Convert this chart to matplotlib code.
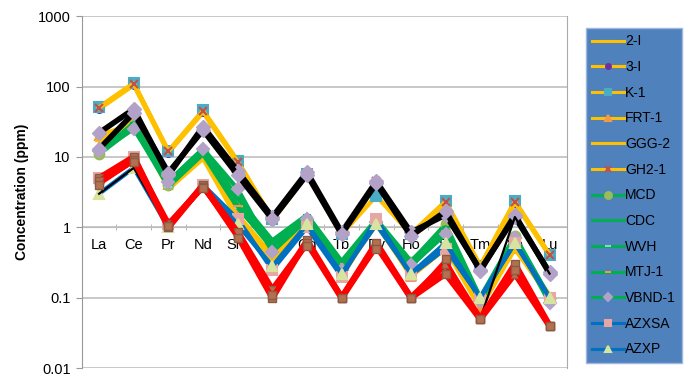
import matplotlib.pyplot as plt
from matplotlib.ticker import FixedLocator, FuncFormatter

plt.rcParams["font.family"] = ["Liberation Sans", "DejaVu Sans"]

elements = ["La", "Ce", "Pr", "Nd", "Sm", "Eu", "Gd", "Tb", "Dy", "Ho", "Er", "Tm", "Yb", "Lu"]

# Образцы из легенды (ppm)
names = ["2-I", "3-I", "K-1", "FRT-1", "GGG-2", "GH2-1", "MCD", "CDC", "WVH",
         "MTJ-1", "VBND-1", "AZXSA", "AZXP"]
two_i = [50, 110, 12, 45, 8.5, 1.3, 5.8, 0.8, 4.5, 0.8, 2.3, 0.28, 2.3, 0.41]
three_i = [48, 105, 11.5, 43, 8.2, 1.25, 5.6, 0.78, 4.3, 0.78, 2.2, 0.27, 2.2, 0.4]
k_1 = [51, 112, 12, 46, 8.8, 1.3, 5.8, 0.8, 2.8, 0.8, 2.35, 0.28, 2.35, 0.41]
frt_1 = [20, 30, 4, 10, 1.5, 0.4, 1.2, 0.2, 1.2, 0.2, 0.5, 0.07, 0.5, 0.1]
ggg_2 = [17, 33, 3.5, 9.5, 1.3, 0.35, 1.1, 0.22, 1.1, 0.21, 0.55, 0.08, 0.5, 0.11]
gh2_1 = [50, 110, 12, 45, 8.5, 1.3, 5.8, 0.8, 4.5, 0.8, 2.3, 0.28, 2.3, 0.41]
mcd = [11, 28, 4, 12, 2.2, 0.6, 1.3, 0.3, 1.2, 0.32, 1.1, 0.1, 0.75, 0.1]
cdc = [12, 30, 4.5, 13, 2.6, 0.65, 1.5, 0.33, 1.3, 0.33, 1.0, 0.09, 0.7, 0.09]
wvh = [11, 26, 3.8, 11, 1.9, 0.55, 1.25, 0.28, 1.15, 0.28, 0.85, 0.09, 0.65, 0.09]
mtj_1 = [12, 27, 4.2, 12, 2.0, 0.5, 1.35, 0.3, 1.25, 0.3, 0.9, 0.1, 0.7, 0.1]
vbnd_1 = [12, 25, 4.4, 13, 3.5, 0.45, 1.3, 0.25, 1.2, 0.29, 0.8, 0.09, 0.7, 0.085]
azxsa = [5, 10, 1.1, 4, 1.3, 0.25, 1.0, 0.2, 1.3, 0.21, 0.5, 0.1, 0.6, 0.1]
azxp = [3, 7, 1.0, 3.8, 1.1, 0.28, 1.1, 0.22, 1.1, 0.22, 0.6, 0.1, 0.6, 0.1]

# Остальные образцы (без подписи в легенде)
black_a = [22, 48, 5.5, 27, 6.3, 1.4, 6.1, 0.85, 4.5, 0.85, 1.5, 0.25, 1.4, 0.23]
black_b = [13, 42, 6, 24, 5.5, 1.3, 5.6, 0.8, 4.2, 0.75, 1.7, 0.24, 1.5, 0.22]
black_c = [3, 7, 1.0, 3.8, 0.8, 0.11, 0.6, 0.1, 0.55, 0.1, 0.28, 0.05, 1.4, 0.22]
red_a = [5, 10, 1.0, 4, 0.75, 0.1, 0.65, 0.1, 0.55, 0.1, 0.3, 0.05, 0.3, 0.04]
red_b = [4.5, 9, 1.1, 3.8, 0.85, 0.13, 0.6, 0.1, 0.6, 0.1, 0.22, 0.05, 0.22, 0.04]
red_c = [4, 8.5, 1.05, 3.6, 0.7, 0.11, 0.55, 0.1, 0.5, 0.1, 0.35, 0.05, 0.25, 0.04]

series = [two_i, three_i, k_1, frt_1, ggg_2, gh2_1, mcd, cdc, wvh, mtj_1, vbnd_1, azxsa, azxp]
yellow, green, blue = "#FFC000", "#00B050", "#0070C0"
line_colors = [yellow] * 6 + [green] * 5 + [blue] * 2
markers = [("_", yellow, 6), ("o", "#7030A0", 5), ("s", "#4BACC6", 7), ("^", "#F79646", 6),
           ("_", yellow, 6), ("x", "#C0504D", 6), ("o", "#9BBB59", 7), ("_", green, 6),
           ("_", "#93CDDD", 6), ("_", "#F79646", 7), ("D", "#B3A2C7", 6),
           ("s", "#E6A6A4", 7), ("^", "#D7E4A0", 7)]

fig = plt.figure(figsize=(6.93, 3.76), dpi=100)
ax = fig.add_axes([0.118, 0.021, 0.700, 0.936])
x = list(range(len(elements)))

for vals, name, col, (m, mc, ms) in zip(series, names, line_colors, markers):
    ax.plot(x, vals, color=col, lw=3.2, marker=m, mfc=mc, mec=mc, ms=ms, mew=1.5,
            label=name, zorder=3)

for vals, lw in [(black_a, 4.0), (black_b, 4.0), (black_c, 1.6)]:
    ax.plot(x, vals, color="black", lw=lw, marker="D", mfc="#B3A2C7", mec="#B3A2C7",
            ms=7 if lw > 2 else 0, zorder=4)
for vals, lw in [(red_a, 4.5), (red_b, 4.5), (red_c, 2.0)]:
    ax.plot(x, vals, color="#FF0000", lw=lw, marker="s", mfc="#B4714F", mec="#8A5A45",
            ms=6, zorder=5)

ax.set_yscale("log")
ax.set_ylim(0.01, 1000)
ax.set_xlim(-0.5, len(elements) - 0.5)
ax.yaxis.set_major_locator(FixedLocator([0.01, 0.1, 1, 10, 100, 1000]))
ax.yaxis.set_minor_locator(FixedLocator([]))
ax.yaxis.set_major_formatter(FuncFormatter(lambda v, p: f"{v:g}"))
ax.tick_params(axis="y", labelsize=10.5, length=4, color="#999999", pad=4)
ax.grid(axis="y", color="#BFBFBF", lw=1.2, zorder=0)

# горизонтальная ось проходит через 1
ax.spines["bottom"].set_position(("data", 1))
ax.spines["bottom"].set_color("#AAAAAA")
ax.spines["bottom"].set_zorder(1)
ax.set_xticks(x)
ax.set_xticklabels(elements)
ax.set_xticks([i + 0.5 for i in x[:-1]], minor=True)
ax.tick_params(axis="x", which="major", length=0, labelsize=10.5, pad=8)
ax.tick_params(axis="x", which="minor", length=4, direction="inout", color="#AAAAAA")
ax.spines["left"].set_color("#999999")
ax.spines["top"].set_visible(False)
ax.spines["right"].set_color("#AAAAAA")

ax.set_ylabel("Concentration (ppm)", fontsize=10, fontweight="bold", labelpad=6)

leg = fig.legend(loc="upper left", bbox_to_anchor=(0.845, 0.925), fontsize=10,
                 frameon=True, fancybox=False, facecolor="#4F81BD", edgecolor="#9DB7E0",
                 framealpha=1, handlelength=2.3, handletextpad=0.1, labelspacing=0.84,
                 borderpad=0.45, borderaxespad=0, markerscale=0.7)
for line in leg.get_lines():
    line.set_linewidth(2.2)

fig.savefig("out.png", dpi=100)
